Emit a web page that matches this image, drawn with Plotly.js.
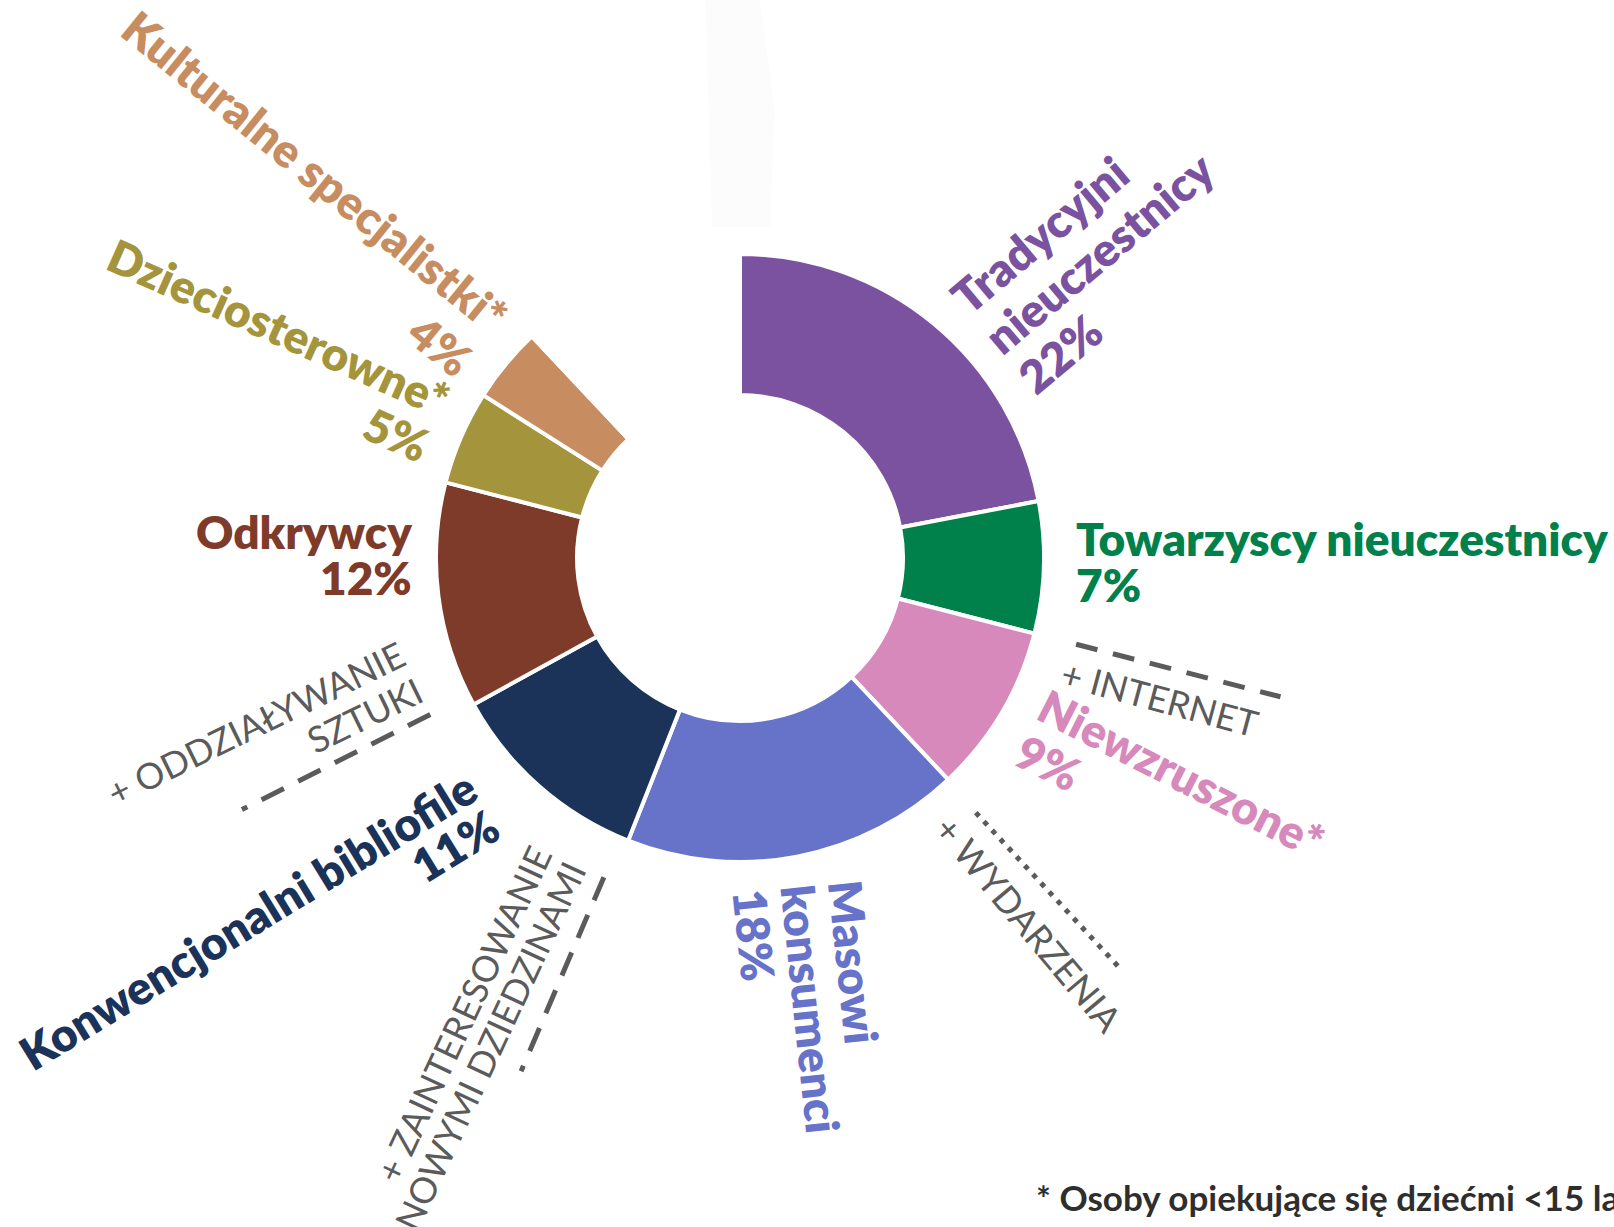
<!DOCTYPE html>
<html><head><meta charset="utf-8">
<script src="https://cdn.plot.ly/plotly-3.0.1.min.js"></script>
<style>html,body{margin:0;padding:0;background:#fff;overflow:hidden}#chart{width:1614px;height:1227px}</style>
</head><body><div id="chart"></div>
<script>
// ---------- data ----------
const segmentNames = ["Tradycyjni nieuczestnicy","Towarzyscy nieuczestnicy","Niewzruszone*","Masowi konsumenci","Konwencjonalni bibliofile","Odkrywcy","Dzieciosterowne*","Kulturalne specjalistki*"];
const segmentShares = [22, 7, 9, 18, 11, 12, 5, 4];
const labelLines = [["Tradycyjni","nieuczestnicy"],["Towarzyscy nieuczestnicy"],["Niewzruszone*"],["Masowi","konsumenci"],["Konwencjonalni bibliofile"],["Odkrywcy"],["Dzieciosterowne*"],["Kulturalne specjalistki*"]];
const factorLabels = [["+ INTERNET"],["+ WYDARZENIA"],["+ ZAINTERESOWANIE","NOWYMI DZIEDZINAMI"],["+ ODDZIAŁYWANIE","SZTUKI"]];
const factorAfterSegment = [1, 2, 3, 4];   // boundary after this segment
const footnoteText = "* Osoby opiekujące się dziećmi <15 lat";

// ---------- styles / layout config ----------
const segmentColors = ["#7b52a0","#00804a","#d689ba","#6773c8","#1b3358","#7f3b2a","#a4943c","#c78d60"];
const W = 1614, H = 1227;
const CX = 740, CY = 558, R_OUT = 304, R_IN = 163;
const labelPlacement = [
  {x:958, y:303, angle:-40, align:'left',  gap:52},
  {x:1076,y:538, angle:0,   align:'left',  gap:47},
  {x:1042,y:703, angle:27,  align:'left',  gap:50},
  {x:845, y:880, angle:84,  align:'left',  gap:48},
  {x:471, y:783, angle:-31.5, align:'right', gap:45},
  {x:412, y:531, angle:0,   align:'right', gap:46},
  {x:447, y:402, angle:24,  align:'right', gap:50},
  {x:501, y:322, angle:39,  align:'right', gap:56}
];
const factorPlacement = [
  {x:1160,y:698, angle:15,  align:'center',gap:40, dash:'22px,16px', angleOffset:0},
  {x:1029,y:924, angle:50,  align:'center',gap:40, dash:'5px,7px',   angleOffset:0.4},
  {x:540, y:848, angle:-65, align:'right', gap:38, dash:'25px,16px', angleOffset:1.5},
  {x:402, y:652, angle:-26, align:'right', gap:40, dash:'25px,16px', angleOffset:2.0}
];
const LINE_R1 = 347, LINE_R2 = 558;
const BOLD = 46, REG = 36, GRAY = "#5b5b5b", BOLD_W = 800;

// ---------- helpers ----------
const ctx = document.createElement('canvas').getContext('2d');
function tw(t, size, weight){ ctx.font = weight + ' ' + size + 'px Lato'; return ctx.measureText(t).width; }
function px2paper(x, y){ return [x / W, 1 - y / H]; }
function placeLines(lines, cfg, size, weight, color){
  const th = cfg.angle * Math.PI / 180;
  const u = [Math.cos(th), Math.sin(th)], v = [-Math.sin(th), Math.cos(th)];
  return lines.map((t, i) => {
    const w = tw(t, size, weight);
    const s = cfg.align === 'left' ? w / 2 : (cfg.align === 'right' ? -w / 2 : 0);
    const p = px2paper(cfg.x + u[0]*s + v[0]*cfg.gap*i, cfg.y + u[1]*s + v[1]*cfg.gap*i);
    return {x:p[0], y:p[1], xref:'paper', yref:'paper', text:t, showarrow:false,
      textangle:cfg.angle, xanchor:'center', yanchor:'middle',
      font:{family:'Lato', size:size, color:color, weight:weight}};
  });
}

// ---------- build ----------
const gapShare = 100 - segmentShares.reduce((a, b) => a + b, 0);
const values = segmentShares.concat([gapShare]);
const colors = segmentColors.concat(['rgba(0,0,0,0)']);

const trace = {
  type:'pie', values:values, labels:segmentNames.concat(['']), sort:false,
  direction:'clockwise', rotation:0, hole:R_IN / R_OUT,
  marker:{colors:colors, line:{color:'#ffffff', width:4}},
  textinfo:'none', hoverinfo:'none', showlegend:false,
  domain:{x:[(CX - R_OUT)/W, (CX + R_OUT)/W], y:[1 - (CY + R_OUT)/H, 1 - (CY - R_OUT)/H]}
};

let annotations = [];
segmentShares.forEach((v, i) => {
  const lines = labelLines[i].concat([v + '%']);
  annotations = annotations.concat(placeLines(lines, labelPlacement[i], BOLD, BOLD_W, segmentColors[i]));
});
factorLabels.forEach((lines, i) => {
  annotations = annotations.concat(placeLines(lines, factorPlacement[i], REG, 400, GRAY));
});
const fp = px2paper(1034, 1197);
annotations.push({x:fp[0], y:fp[1], xref:'paper', yref:'paper', text:footnoteText, showarrow:false,
  xanchor:'left', yanchor:'middle', font:{family:'Lato', size:35, color:'#2e2e2e', weight:700}});

const shapes = [];
// separator lines along segment boundaries
factorAfterSegment.forEach((seg, i) => {
  const cum = segmentShares.slice(0, seg + 1).reduce((a, b) => a + b, 0);
  const ang = (cum / 100 * 360 + factorPlacement[i].angleOffset) * Math.PI / 180;
  const a = px2paper(CX + LINE_R1*Math.sin(ang), CY - LINE_R1*Math.cos(ang));
  const b = px2paper(CX + LINE_R2*Math.sin(ang), CY - LINE_R2*Math.cos(ang));
  shapes.push({type:'line', xref:'paper', yref:'paper', x0:a[0], y0:a[1], x1:b[0], y1:b[1],
    line:{color:GRAY, width:5, dash:factorPlacement[i].dash}});
});
// faint artefact at top
const faint = [[705,0],[760,0],[775,110],[770,227],[712,227]].map(p => px2paper(p[0], p[1]));
shapes.push({type:'path', xref:'paper', yref:'paper', layer:'below',
  path:'M' + faint.map(p => p[0] + ',' + p[1]).join(' L') + ' Z',
  fillcolor:'rgba(0,0,0,0.012)', line:{width:0}});

Plotly.newPlot('chart', [trace], {
  width:W, height:H, margin:{l:0, r:0, t:0, b:0},
  paper_bgcolor:'#ffffff', plot_bgcolor:'#ffffff', showlegend:false,
  annotations:annotations, shapes:shapes
}, {staticPlot:true});
</script>
</body></html>
